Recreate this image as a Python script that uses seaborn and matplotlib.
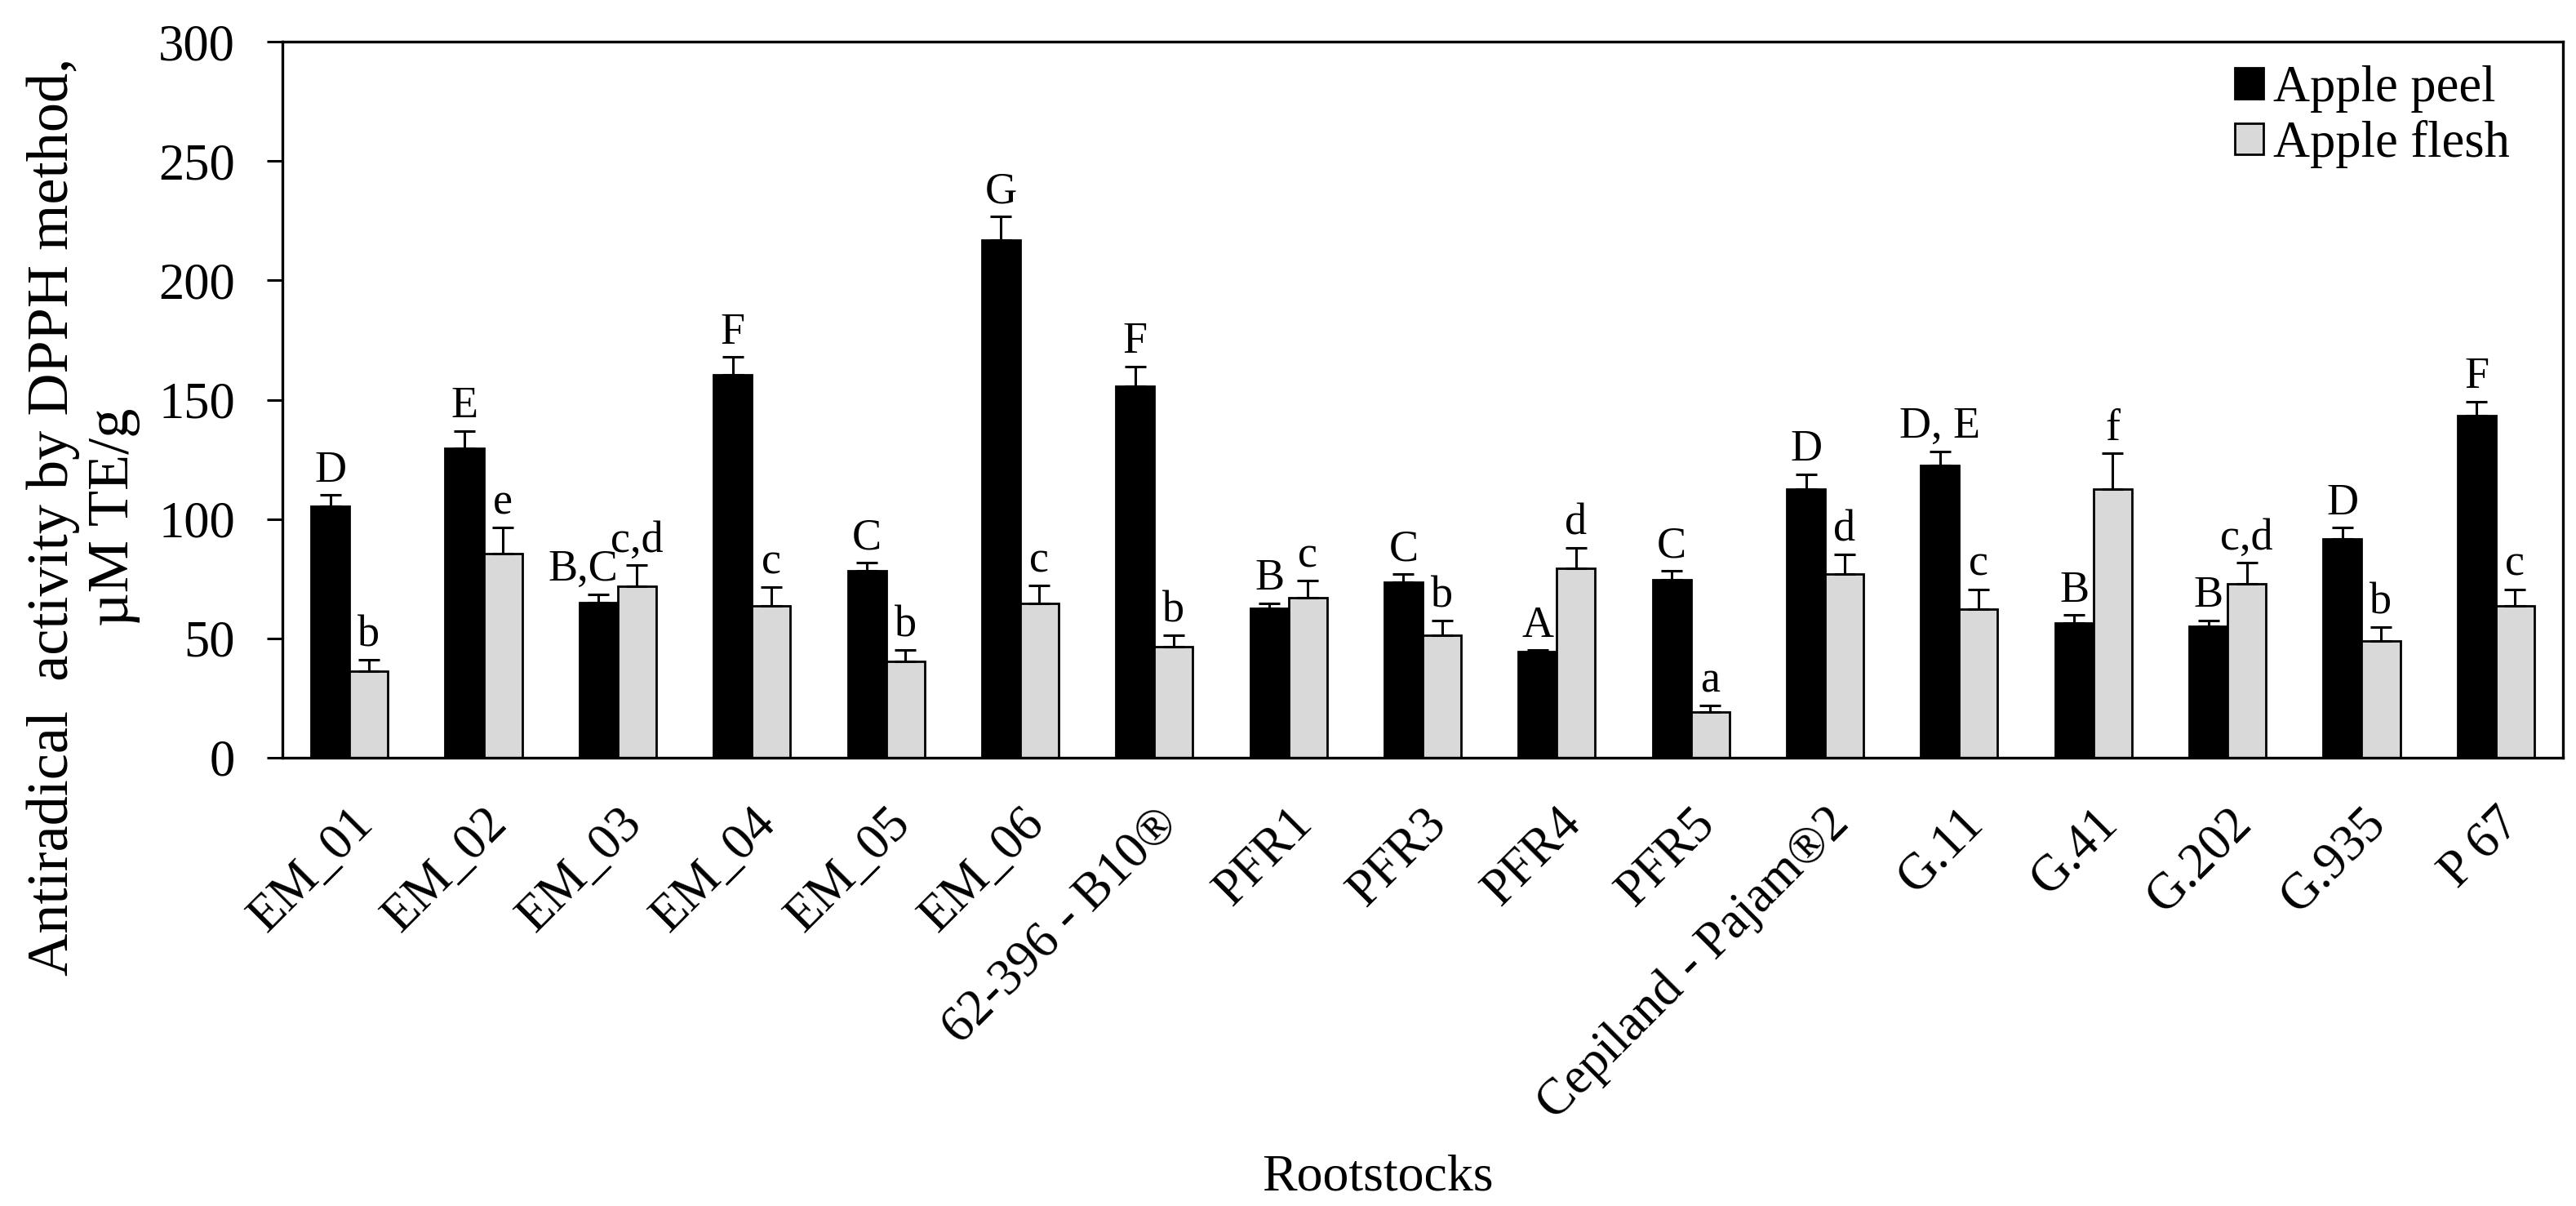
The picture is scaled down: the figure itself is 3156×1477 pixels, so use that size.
import numpy as np
import pandas as pd
import matplotlib
matplotlib.use("Agg")
import matplotlib.pyplot as plt
import seaborn as sns

rootstocks = ["EM_01", "EM_02", "EM_03", "EM_04", "EM_05", "EM_06", "62-396 - B10®",
              "PFR1", "PFR3", "PFR4", "PFR5", "Cepiland - Pajam®2", "G.11", "G.41",
              "G.202", "G.935", "P 67"]
peel = [105.5, 129.7, 65.0, 160.5, 78.5, 217.0, 155.7, 62.7, 73.5, 44.4, 74.7,
        112.7, 122.5, 56.5, 55.0, 91.8, 143.2]
peel_err = [4.5, 7.3, 3.5, 7.3, 3.3, 9.8, 8.1, 2.0, 3.3, 0.6, 3.5, 6.0, 5.8, 3.3,
            2.5, 4.5, 6.0]
flesh = [36.3, 85.5, 72.0, 63.7, 40.3, 64.8, 46.5, 67.0, 51.3, 79.3, 19.3, 76.8,
         62.3, 112.5, 73.0, 48.8, 63.7]
flesh_err = [4.8, 10.8, 8.7, 7.7, 4.8, 7.3, 4.8, 7.3, 6.2, 8.5, 2.5, 8.3, 8.3,
             15.0, 8.7, 6.0, 6.9]
peel_letters = ["D", "E", "B,C", "F", "C", "G", "F", "B", "C", "A", "C", "D",
                "D, E", "B", "B", "D", "F"]
flesh_letters = ["b", "e", "c,d", "c", "b", "c", "b", "c", "b", "d", "a", "d",
                 "c", "f", "c,d", "b", "c"]
series_names = ["Apple peel", "Apple flesh"]
y_ticks = [0, 50, 100, 150, 200, 250, 300]

sns.set_theme(style="ticks")
plt.rcParams["font.family"] = ["Liberation Serif", "DejaVu Serif"]
plt.rcParams["text.color"] = "black"
plt.rcParams["axes.labelcolor"] = "black"
plt.rcParams["xtick.color"] = "black"
plt.rcParams["ytick.color"] = "black"
plt.rcParams["axes.edgecolor"] = "black"

df = pd.DataFrame({
    "Rootstock": rootstocks * 2,
    "Part": [series_names[0]] * len(rootstocks) + [series_names[1]] * len(rootstocks),
    "Value": peel + flesh,
})

W, H = 3156, 1477
fig = plt.figure(figsize=(W / 100, H / 100), dpi=100)
ax = fig.add_axes([346 / W, 1 - 928 / H, 2794 / W, 877 / H])

sns.barplot(data=df, x="Rootstock", y="Value", hue="Part",
            palette=["black", "#d9d9d9"], edgecolor="black", linewidth=2,
            width=0.573, gap=0, errorbar=None, ax=ax, saturation=1)

errs = [peel_err, flesh_err]
vals = [peel, flesh]
letters = [peel_letters, flesh_letters]
bar_containers = list(ax.containers)
for k, cont in enumerate(bar_containers):
    xs = [p.get_x() + p.get_width() / 2 for p in cont.patches]
    e = np.array(errs[k])
    v = np.array(vals[k])
    ax.errorbar(xs, v, yerr=[np.zeros_like(e), e], fmt="none", ecolor="black",
                elinewidth=2.2, capsize=9.6, capthick=2.2, zorder=5)
    for i, (x, top, lab) in enumerate(zip(xs, v + e, letters[k])):
        dx = 0
        if k == 0 and lab == "B,C":
            dx = -14
        ax.annotate(lab, (x, top), xytext=(dx, 12), textcoords="offset points",
                    ha="center", va="baseline", fontsize=39)

ax.set_xlim(-0.5, 16.5)
ax.set_ylim(0, 300)
ax.set_yticks(y_ticks)
ax.set_xticks(range(len(rootstocks)))
ax.set_xticklabels(rootstocks, rotation=45, ha="right", va="top",
                   rotation_mode="anchor")
ax.tick_params(axis="x", length=0, pad=37, labelsize=45)
ax.tick_params(axis="y", length=13.7, width=2.2, pad=28, labelsize=45,
               direction="out")
for s in ax.spines.values():
    s.set_visible(True)
    s.set_linewidth(2.4)
    s.set_color("black")

ax.set_ylabel("Antiradical  activity by DPPH method,\nµM TE/g", fontsize=52,
              linespacing=1.18)
ax.yaxis.set_label_coords(172 / W, 1 - 633 / H, transform=fig.transFigure)
ax.set_xlabel("Rootstocks", fontsize=46)
ax.xaxis.label.set_va("baseline")
ax.xaxis.set_label_coords(1688 / W, 1 - 1458 / H, transform=fig.transFigure)

sns.move_legend(ax, "upper left", bbox_to_anchor=(0.856, 0.967), title=None,
                frameon=False, fontsize=45, handlelength=0.56,
                handleheight=0.56, handletextpad=0.2, labelspacing=0.15,
                borderpad=0, borderaxespad=0)

fig.savefig("out.png", dpi=100, facecolor="white")
